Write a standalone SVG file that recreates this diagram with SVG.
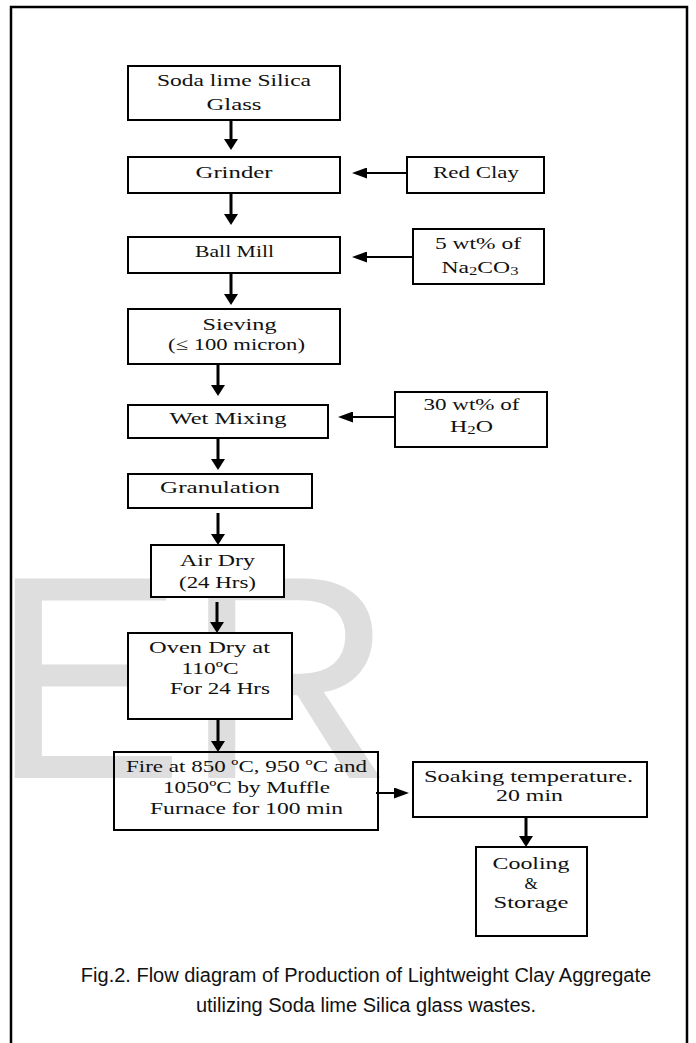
<svg xmlns="http://www.w3.org/2000/svg" width="696" height="1043" viewBox="0 0 696 1043">
<style>
.bx{fill:#fff;stroke:#000;stroke-width:2}
.bn{fill:none;stroke:#000;stroke-width:2}
.t{font-family:"Liberation Serif","DejaVu Serif",serif;font-size:17px;fill:#111;text-anchor:middle}
.sub{font-size:12px}
.cap{font-family:"Liberation Sans",Arial,sans-serif;font-size:20px;fill:#111;text-anchor:middle}
.cv{stroke:#000;stroke-width:3;fill:none}
.ch{stroke:#000;stroke-width:2;fill:none}
</style>
<defs>
<marker id="ahv" markerUnits="userSpaceOnUse" markerWidth="11" markerHeight="14" refX="0" refY="7" orient="auto"><path d="M0,0 L11,7 L0,14 z" fill="#000"/></marker>
<marker id="ahh" markerUnits="userSpaceOnUse" markerWidth="15" markerHeight="11" refX="0" refY="5.5" orient="auto"><path d="M0,0 L15,5.5 L0,11 z" fill="#000"/></marker>
</defs>
<rect x="0" y="0" width="696" height="1043" fill="#fff"/>
<text x="-9" y="778" font-family="Liberation Sans,Arial,sans-serif" font-size="290" fill="#dedede">ER</text>
<path d="M11,1043 V7 H687 V1043" fill="none" stroke="#000" stroke-width="2.5"/>

<g id="connectors">
<line class="cv" x1="231" y1="120" x2="231" y2="139" marker-end="url(#ahv)"/>
<line class="cv" x1="231" y1="193" x2="231" y2="214" marker-end="url(#ahv)"/>
<line class="cv" x1="231" y1="273" x2="231" y2="294" marker-end="url(#ahv)"/>
<line class="cv" x1="218" y1="364" x2="218" y2="385" marker-end="url(#ahv)"/>
<line class="cv" x1="218" y1="438" x2="218" y2="459" marker-end="url(#ahv)"/>
<line class="cv" x1="218" y1="513" x2="218" y2="534" marker-end="url(#ahv)"/>
<line class="cv" x1="217" y1="602" x2="217" y2="622" marker-end="url(#ahv)"/>
<line class="cv" x1="218" y1="719" x2="218" y2="741" marker-end="url(#ahv)"/>
<line class="cv" x1="526" y1="817" x2="526" y2="836" marker-end="url(#ahv)"/>
<line class="ch" x1="407" y1="173" x2="367" y2="173" marker-end="url(#ahh)"/>
<line class="ch" x1="413" y1="257" x2="367" y2="257" marker-end="url(#ahh)"/>
<line class="ch" x1="395" y1="417" x2="353" y2="417" marker-end="url(#ahh)"/>
<line class="ch" x1="376" y1="793" x2="394" y2="793" marker-end="url(#ahh)"/>
</g>

<g id="soda">
<rect class="bx" x="128" y="66" width="212" height="54"/>
<text class="t" x="234" y="86" textLength="154" lengthAdjust="spacingAndGlyphs">Soda lime Silica</text>
<text class="t" x="234" y="110" textLength="55" lengthAdjust="spacingAndGlyphs">Glass</text>
</g>
<g id="grinder">
<rect class="bx" x="128" y="157" width="212" height="36"/>
<text class="t" x="234" y="177.5" textLength="77" lengthAdjust="spacingAndGlyphs">Grinder</text>
</g>
<g id="redclay">
<rect class="bx" x="407" y="157" width="137" height="36"/>
<text class="t" x="476" y="177.5" textLength="86" lengthAdjust="spacingAndGlyphs">Red Clay</text>
</g>
<g id="ballmill">
<rect class="bx" x="128" y="237" width="212" height="36"/>
<text class="t" x="234.5" y="257" textLength="79" lengthAdjust="spacingAndGlyphs">Ball Mill</text>
</g>
<g id="na2co3">
<rect class="bx" x="413" y="229" width="131" height="55"/>
<text class="t" x="478" y="248.5" textLength="86" lengthAdjust="spacingAndGlyphs">5 wt% of</text>
<text class="t" x="480" y="273" textLength="77" lengthAdjust="spacingAndGlyphs">Na<tspan class="sub" dy="2">2</tspan><tspan dy="-2">CO</tspan><tspan class="sub" dy="2">3</tspan></text>
</g>
<g id="sieving">
<rect class="bx" x="128" y="309" width="212" height="55"/>
<text class="t" x="239.5" y="329.5" textLength="74" lengthAdjust="spacingAndGlyphs">Sieving</text>
<text class="t" x="236.5" y="350" textLength="137" lengthAdjust="spacingAndGlyphs">(≤ 100 micron)</text>
</g>
<g id="wetmixing">
<rect class="bx" x="128" y="405" width="200" height="33"/>
<text class="t" x="228" y="423.5" textLength="117" lengthAdjust="spacingAndGlyphs">Wet Mixing</text>
</g>
<g id="h2o">
<rect class="bx" x="395" y="392" width="152" height="55"/>
<text class="t" x="471.5" y="410" textLength="96" lengthAdjust="spacingAndGlyphs">30 wt% of</text>
<text class="t" x="471.5" y="431.5" textLength="43" lengthAdjust="spacingAndGlyphs">H<tspan class="sub" dy="2">2</tspan><tspan dy="-2">O</tspan></text>
</g>
<g id="granulation">
<rect class="bx" x="128" y="474" width="184" height="34"/>
<text class="t" x="220" y="493" textLength="120" lengthAdjust="spacingAndGlyphs">Granulation</text>
</g>
<g id="airdry">
<rect class="bx" x="151" y="545" width="133" height="52"/>
<text class="t" x="217.5" y="566" textLength="75" lengthAdjust="spacingAndGlyphs">Air Dry</text>
<text class="t" x="217.5" y="587.5" textLength="77" lengthAdjust="spacingAndGlyphs">(24 Hrs)</text>
</g>
<g id="ovendry">
<rect class="bx" x="128" y="633" width="164" height="86"/>
<text class="t" x="209.5" y="652.5" textLength="121" lengthAdjust="spacingAndGlyphs">Oven Dry at</text>
<text class="t" x="210" y="673.5" textLength="57" lengthAdjust="spacingAndGlyphs">110ºC</text>
<text class="t" x="220" y="694" textLength="100" lengthAdjust="spacingAndGlyphs">For 24 Hrs</text>
</g>
<g id="fire">
<rect class="bn" x="114" y="752" width="264" height="78"/>
<text class="t" x="246.5" y="772" textLength="241" lengthAdjust="spacingAndGlyphs">Fire at 850 ºC, 950 ºC and</text>
<text class="t" x="246.5" y="793" textLength="167" lengthAdjust="spacingAndGlyphs">1050ºC by Muffle</text>
<text class="t" x="246.5" y="813.5" textLength="193" lengthAdjust="spacingAndGlyphs">Furnace for 100 min</text>
</g>
<g id="soaking">
<rect class="bx" x="413" y="762" width="234" height="55"/>
<text class="t" x="528.5" y="781.5" textLength="209" lengthAdjust="spacingAndGlyphs">Soaking temperature.</text>
<text class="t" x="529.5" y="800.5" textLength="67" lengthAdjust="spacingAndGlyphs">20 min</text>
</g>
<g id="cooling">
<rect class="bx" x="476" y="847" width="111" height="89" stroke-width="2.5"/>
<text class="t" x="531" y="868.5" textLength="77" lengthAdjust="spacingAndGlyphs">Cooling</text>
<text class="t" x="531" y="888.5">&amp;</text>
<text class="t" x="531" y="908" textLength="75" lengthAdjust="spacingAndGlyphs">Storage</text>
</g>
<g id="caption">
<text class="cap" x="366" y="982">Fig.2. Flow diagram of Production of Lightweight Clay Aggregate</text>
<text class="cap" x="366" y="1012">utilizing Soda lime Silica glass wastes.</text>
</g>
</svg>
